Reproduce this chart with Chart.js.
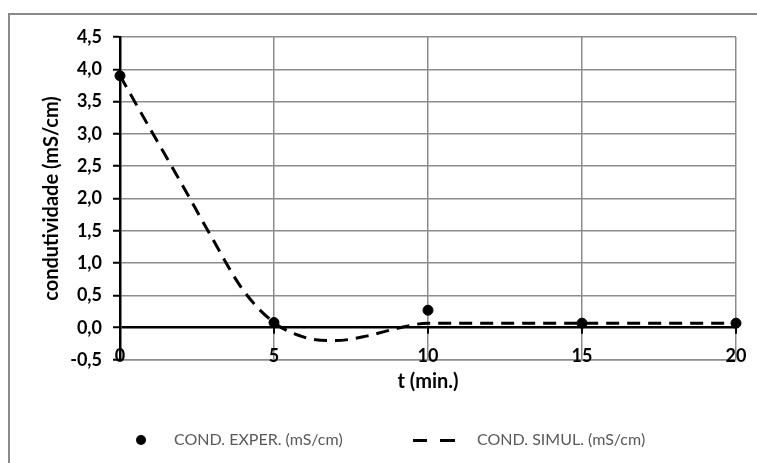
<!DOCTYPE html>
<html>
<head>
<meta charset="utf-8">
<script src="https://cdn.jsdelivr.net/npm/chart.js@4"></script>
<style>
  body { margin: 0; background: #fff; overflow: hidden; }
  #wrap { position: relative; width: 757px; height: 463px; overflow: hidden; }
  #frame { position: absolute; left: 8px; top: 13px; width: 800px; height: 500px; border: 2px solid #898989; box-sizing: border-box; }
  canvas { position: absolute; left: 0; top: 0; }
  .leg { position: absolute; top: 429px; font: 16px "Lato", sans-serif; color: #595959; white-space: nowrap; line-height: 20px; }
  .dot { position: absolute; width: 10px; height: 10px; border-radius: 50%; background: #000; }
  .dash { position: absolute; height: 3px; background: #000; }
</style>
</head>
<body>
<div id="wrap">
  <div id="frame"></div>
  <canvas id="chart" width="757" height="463"></canvas>
  <div class="dot" style="left:136px; top:435px;"></div>
  <span class="leg" style="left:174px;">COND. EXPER. (mS/cm)</span>
  <div class="dash" style="left:413px; top:439px; width:14px;"></div>
  <div class="dash" style="left:440px; top:439px; width:15px;"></div>
  <span class="leg" style="left:477px;">COND. SIMUL. (mS/cm)</span>
</div>
<script>
// experimental measurements
const expTimes = [0, 5, 10, 15, 20];
const expValues = [3.9, 0.08, 0.27, 0.07, 0.07];

// simulated curve, read every minute
const simTimes = [0, 1, 2, 3, 4, 5, 6, 7, 8, 9, 10, 11, 12, 13, 14, 15, 16, 17, 18, 19, 20];
const simValues = [3.9, 3.06, 2.23, 1.38, 0.58, 0.08, -0.15, -0.2, -0.13, -0.01, 0.07,
  0.07, 0.07, 0.07, 0.07, 0.07, 0.07, 0.07, 0.07, 0.07, 0.07];

const xTicks = [0, 5, 10, 15, 20];

const gridGray = "#8c8c8c";
const tickFont = { family: "Lato, sans-serif", size: 18, weight: "bold" };
const titleFont = { family: "Lato, sans-serif", size: 20, weight: "bold" };

// tick marks under the zero line, and the x labels sitting on the bottom gridline
const xAxisBits = {
  id: "xAxisBits",
  afterDraw(chart) {
    const { ctx, scales, chartArea } = chart;
    const y0 = scales.y.getPixelForValue(0);
    ctx.save();
    ctx.strokeStyle = "#000";
    ctx.lineWidth = 2;
    xTicks.forEach((t) => {
      const px = scales.x.getPixelForValue(t);
      ctx.beginPath();
      ctx.moveTo(px, y0);
      ctx.lineTo(px, y0 + 6);
      ctx.stroke();
    });
    ctx.fillStyle = "#000";
    ctx.font = "bold 18px Lato, sans-serif";
    ctx.textAlign = "center";
    ctx.textBaseline = "middle";
    xTicks.forEach((t) => {
      ctx.fillText(String(t), scales.x.getPixelForValue(t), chartArea.bottom - 4);
    });
    ctx.restore();
  },
};

new Chart(document.getElementById("chart"), {
  type: "scatter",
  data: {
    datasets: [
      {
        label: "COND. EXPER. (mS/cm)",
        data: expTimes.map((t, i) => ({ x: t, y: expValues[i] })),
        backgroundColor: "#000",
        borderColor: "#000",
        pointRadius: 5,
        pointHoverRadius: 5,
        clip: false,
        order: 0,
      },
      {
        label: "COND. SIMUL. (mS/cm)",
        type: "line",
        data: simTimes.map((t, i) => ({ x: t, y: simValues[i] })),
        borderColor: "#000",
        borderWidth: 3,
        borderDash: [13, 8],
        cubicInterpolationMode: "monotone",
        pointRadius: 0,
        fill: false,
        clip: false,
        order: 1,
      },
    ],
  },
  options: {
    responsive: false,
    animation: false,
    layout: { padding: { top: 37, right: 21, bottom: 63, left: 0 } },
    plugins: { legend: { display: false }, tooltip: { enabled: false } },
    scales: {
      x: {
        type: "linear",
        min: 0,
        max: 20,
        afterFit(scale) { scale.height = 40; },
        afterBuildTicks(scale) { scale.ticks = xTicks.map((v) => ({ value: v })); },
        ticks: { display: false },
        grid: {
          drawTicks: false,
          lineWidth: 1.5,
          color: (c) => (c.tick && c.tick.value === 0 ? "rgba(0,0,0,0)" : gridGray),
        },
        border: { color: gridGray, width: 1.5 },
        title: { display: true, text: "t (min.)", font: titleFont, color: "#000", padding: { top: 0, bottom: 6 } },
      },
      y: {
        min: -0.5,
        max: 4.5,
        afterFit(scale) { scale.width = 120; },
        ticks: {
          stepSize: 0.5,
          font: tickFont,
          color: "#000",
          padding: 11,
          callback: (v) => v.toFixed(1).replace(".", ","),
        },
        grid: {
          tickLength: 7,
          tickColor: "#000",
          tickWidth: 2,
          lineWidth: (c) => (c.tick && c.tick.value === 0 ? 2.5 : 1.5),
          color: (c) => (c.tick && c.tick.value === 0 ? "#000" : gridGray),
        },
        border: { color: "#000", width: 2.5 },
        title: { display: true, text: "condutividade (mS/cm)", font: titleFont, color: "#000", padding: { top: 40, bottom: 0 } },
      },
    },
  },
  plugins: [xAxisBits],
});
</script>
</body>
</html>
